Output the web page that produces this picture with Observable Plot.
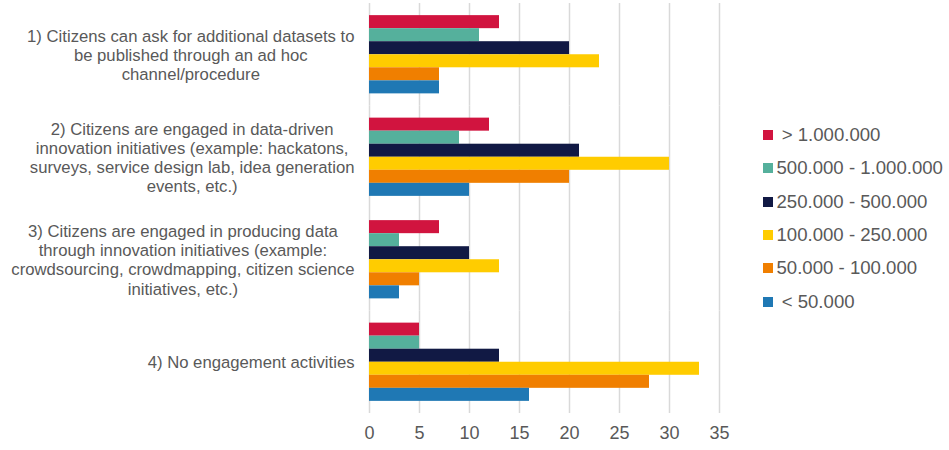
<!DOCTYPE html>
<html>
<head>
<meta charset="utf-8">
<script src="https://cdn.jsdelivr.net/npm/d3@7"></script>
<script src="https://cdn.jsdelivr.net/npm/@observablehq/plot@0.6"></script>
<style>
  body { margin: 0; background: #fff; font-family: "Liberation Sans", Arial, sans-serif; }
  #wrap { position: relative; width: 949px; height: 450px; }
  #chart { position: absolute; left: 0; top: 0; }
  .lg { position: absolute; font-size: 18.6px; line-height: 20px; color: #595959; white-space: pre; }
  .sw { position: absolute; width: 10px; height: 10px; }
</style>
</head>
<body>
<div id="wrap"><div id="chart"></div></div>
<script>
const categories = [
  "1) Citizens can ask for additional datasets to\nbe published through an ad hoc\nchannel/procedure",
  "2) Citizens are engaged in data-driven\ninnovation initiatives (example: hackatons,\nsurveys, service design lab, idea generation\nevents, etc.)",
  "3) Citizens are engaged in producing data\nthrough innovation initiatives (example:\ncrowdsourcing, crowdmapping, citizen science\ninitiatives, etc.)",
  "4) No engagement activities"
];
const series = ["> 1.000.000", "500.000 - 1.000.000", "250.000 - 500.000", "100.000 - 250.000", "50.000 - 100.000", "< 50.000"];
const legendLabels = [" > 1.000.000", "500.000 - 1.000.000", "250.000 - 500.000", "100.000 - 250.000", "50.000 - 100.000", " < 50.000"];
const colors = ["#D1143F", "#55B09C", "#111944", "#FFCC00", "#F07F00", "#1F78B4"];
const valuesQ1 = [13, 11, 20, 23, 7, 7];
const valuesQ2 = [12, 9, 21, 30, 20, 10];
const valuesQ3 = [7, 3, 10, 13, 5, 3];
const valuesQ4 = [5, 5, 13, 33, 28, 16];
const xTicks = [0, 5, 10, 15, 20, 25, 30, 35];

const allValues = [valuesQ1, valuesQ2, valuesQ3, valuesQ4];
const data = [];
categories.forEach((c, i) => series.forEach((s, j) => data.push({category: c, series: s, value: allValues[i][j]})));

const labelSize = 16.7;
const ctx = document.createElement("canvas").getContext("2d");
ctx.font = labelSize + "px 'Liberation Sans'";
const labelMarks = categories.map(c => {
  const w = d3.max(c.split("\n"), l => ctx.measureText(l).width);
  return Plot.text([c], {
    fy: d => d, text: d => d, frameAnchor: "left", textAnchor: "middle",
    dx: -(15 + w / 2), fontSize: labelSize, lineHeight: 1.15, fill: "#595959"
  });
});

const chart = Plot.plot({
  width: 949,
  height: 450,
  marginLeft: 369,
  marginRight: 230,
  marginTop: 3,
  marginBottom: 37,
  style: {fontFamily: "'Liberation Sans', Arial, sans-serif", color: "#595959", background: "#fff"},
  x: {domain: [0, 35], axis: null, label: null},
  fy: {domain: categories, padding: 0, axis: null, round: false},
  y: {domain: series, paddingInner: 0, paddingOuter: 0.93, axis: null, round: false},
  color: {domain: series, range: colors},
  marks: [
    Plot.gridX(xTicks, {stroke: "#d9d9d9", strokeOpacity: 1, strokeWidth: 1.5}),
    Plot.barX(data, {fy: "category", y: "series", x: "value", fill: "series"}),
    Plot.axisX(xTicks, {tickSize: 0, tickPadding: 13, fontSize: 18, fill: "#595959", label: null, tickFormat: d => String(d)}),
    ...labelMarks
  ]
});
document.getElementById("chart").appendChild(chart);

const wrap = document.getElementById("wrap");
const rowCenters = [135, 168.3, 201.7, 235, 268.3, 301.7];
series.forEach((s, i) => {
  const sw = document.createElement("div");
  sw.className = "sw";
  sw.style.left = "762.5px";
  sw.style.top = (rowCenters[i] - 5) + "px";
  sw.style.background = colors[i];
  wrap.appendChild(sw);
  const t = document.createElement("div");
  t.className = "lg";
  t.style.left = "776.5px";
  t.style.top = (rowCenters[i] - 10) + "px";
  t.textContent = legendLabels[i];
  wrap.appendChild(t);
});
</script>
</body>
</html>
